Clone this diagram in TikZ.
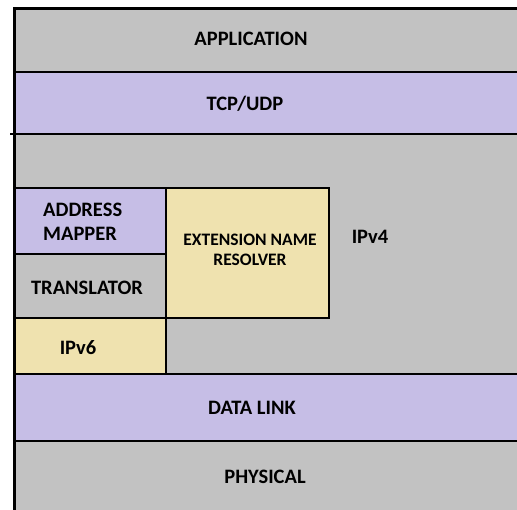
\documentclass[tikz,border=0pt]{standalone}
\usepackage{fontspec}
\setmainfont{Carlito}
\usetikzlibrary{positioning}
\definecolor{layergray}{RGB}{194,194,194}
\definecolor{layerviolet}{RGB}{198,190,230}
\definecolor{layeryellow}{RGB}{239,226,175}

\begin{document}
\begin{tikzpicture}[x=1pt, y=-1pt,
    layertext/.style={font=\fontsize{20.5}{24.5}\selectfont\bfseries, align=center, inner sep=0pt},
    sepline/.style={line width=2.6pt}]

    \useasboundingbox (0,0) rectangle (517,510);
    \clip (0,0) rectangle (517,510);

    % Layer bands
    \fill[layergray]   (14,9)   rectangle (540,72);
    \fill[layerviolet] (14,72)  rectangle (540,134);
    \fill[layergray]   (14,134) rectangle (540,374);
    \fill[layerviolet] (14,374) rectangle (540,441);
    \fill[layergray]   (14,441) rectangle (540,540);

    % Boxes inside IPv4
    \fill[layerviolet] (14,188)  rectangle (166,254);
    \fill[layergray]   (14,254)  rectangle (166,318);
    \fill[layeryellow] (14,318)  rectangle (166,374);
    \fill[layeryellow] (166,188) rectangle (328,318);

    % Outer frame
    \draw[line width=3pt] (14,540) -- (14,9) -- (540,9);

    % Separators between layers
    \draw[sepline] (14,72) -- (540,72);
    \draw[sepline] (10,134) -- (540,134);
    \draw[line width=1.6pt] (14,374) -- (540,374);
    \draw[line width=2.2pt] (14,441) -- (540,441);

    % Separators inside IPv4
    \draw[sepline] (14,188) -- (329,188) -- (329,319);
    \draw[sepline] (14,254) -- (166,254);
    \draw[sepline] (14,318) -- (330,318);
    \draw[line width=2pt] (166,188) -- (166,374);

    % Labels
    \node[layertext] (app)   at (251,39)  {APPLICATION};
    \node[layertext] (tcp)   at (245,104) {TCP/UDP};
    \node[layertext] (ipv4)  at (370,237) {IPv4};
    \node[layertext, align=left, anchor=west] (mapper) at (43,222) {ADDRESS\\MAPPER};
    \node[layertext] (trans) at (87,288)  {TRANSLATOR};
    \node[layertext] (ipv6)  at (78,348)  {IPv6};
    \node[layertext, font=\fontsize{17.5}{20}\selectfont\bfseries] (ens) at (250,250) {EXTENSION NAME\\RESOLVER};
    \node[layertext] (link)  at (252,408) {DATA LINK};
    \node[layertext] (phys)  at (265,477) {PHYSICAL};
\end{tikzpicture}
\end{document}
